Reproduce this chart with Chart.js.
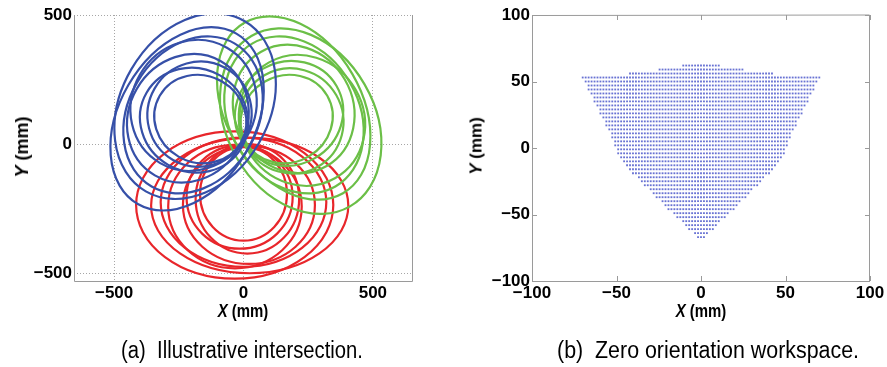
<!DOCTYPE html>
<html>
<head>
<meta charset="utf-8">
<script src="https://cdn.jsdelivr.net/npm/chart.js@4/dist/chart.umd.min.js"></script>
<style>
  body { margin: 0; background: #fff; }
  #page { position: relative; width: 887px; height: 367px; overflow: hidden; font-family: "Liberation Sans", Arial, sans-serif; }
  canvas { position: absolute; top: 0; }
  .lbl { position: absolute; white-space: nowrap; line-height: 1; color: #000; }
  .ax { font-weight: bold; font-size: 18px; }
  .cap { font-size: 23px; }
</style>
</head>
<body>
<div id="page">
  <canvas id="chartA" width="440" height="367" style="left:0"></canvas>
  <canvas id="chartB" width="447" height="367" style="left:440px"></canvas>

  <div class="lbl ax" style="left:22px;top:147px;transform:translate(-50%,-50%) rotate(-90deg)"><i>Y</i> (mm)</div>
  <div class="lbl ax" style="left:243px;top:311px;transform:translate(-50%,-50%) scaleX(0.83)"><i>X</i> (mm)</div>
  <div class="lbl ax" style="left:476px;top:146px;font-size:17px;transform:translate(-50%,-50%) rotate(-90deg)"><i>Y</i> (mm)</div>
  <div class="lbl ax" style="left:701px;top:311px;transform:translate(-50%,-50%) scaleX(0.83)"><i>X</i> (mm)</div>

  <div class="lbl cap" style="left:242px;top:350px;transform:translate(-50%,-50%) scaleX(0.88)">(a)&nbsp; Illustrative intersection.</div>
  <div class="lbl cap" style="left:708px;top:350px;transform:translate(-50%,-50%) scaleX(0.93)">(b)&nbsp; Zero orientation workspace.</div>
</div>

<script>
// (a) loops traced by the three legs: [centre x, centre y, semi-axis a, semi-axis b, tilt deg]
const redLoops = [
  [-34, -236, 381, 285, 0],
  [24, -238, 381, 262, 0],
  [-33, -242, 258, 239, 0],
  [21, -236, 255, 228, 0],
  [-15, -205, 205, 200, 0],
  [15, -212, 200, 212, 0],
  [0, -193, 168, 181, 0],
  [0, -225, 320, 250, 0]
];
const greenLoops = [
  [221, 89, 381, 285, 120],
  [194, 140, 381, 262, 120],
  [226, 92, 258, 239, 120],
  [194, 136, 255, 228, 120],
  [185, 90, 205, 200, 120],
  [176, 119, 200, 212, 120],
  [167, 97, 168, 181, 120],
  [195, 113, 320, 250, 120]
];
const blueLoops = [
  [-187, 147, 381, 285, -120],
  [-218, 98, 381, 262, -120],
  [-193, 150, 258, 239, -120],
  [-215, 100, 255, 228, -120],
  [-170, 116, 205, 200, -120],
  [-191, 93, 200, 212, -120],
  [-167, 97, 168, 181, -120],
  [-195, 113, 320, 250, -120]
];
const ticksA = [-500, 0, 500];

// (b) workspace grid: one row per y, with its x extent
const wsRowY = [62, 59, 56, 53, 50, 47, 44, 41, 38, 35, 32, 29, 26, 23, 20, 17, 14, 11, 8, 5, 2, -1,
  -4, -7, -10, -13, -16, -19, -22, -25, -28, -31, -34, -37, -40, -43, -46, -49, -52, -55, -58, -61, -64, -67];
const wsRowXMin = [-12, -26, -42, -70, -69, -68, -67, -66, -64.5, -63, -62, -60.5, -59.5, -58.5, -57.5, -56.5,
  -55.5, -54, -53, -52, -51, -50, -49, -48, -47, -45, -43, -40.5, -38, -36, -33.5, -31, -29, -26.5, -24, -22,
  -19.5, -17, -14.5, -12, -9.5, -7, -4.5, -2];
const wsRowXMax = [12, 26, 42, 70, 69, 68, 67, 66, 64.5, 63, 62, 60.5, 59.5, 58.5, 57.5, 56.5,
  55.5, 54, 53, 52, 51, 50, 49, 48, 47, 45, 43, 40.5, 38, 36, 33.5, 31, 29, 26.5, 24, 22,
  19.5, 17, 14.5, 12, 9.5, 7, 4.5, 2];
const wsStepX = 1.75;
const ticksB = [-100, -50, 0, 50, 100];

const tickFont = { family: '"Liberation Sans", Arial, sans-serif', size: 17, weight: 'bold' };
const fmt = v => (v < 0 ? '\u2212' + Math.abs(v) : '' + v);

// draws each loop as an ellipse through the chart scales
const loopPlugin = {
  id: 'loops',
  afterDatasetsDraw(chart) {
    const { ctx, chartArea: a } = chart;
    const xs = chart.scales.x, ys = chart.scales.y;
    ctx.save();
    ctx.beginPath();
    ctx.rect(a.left, a.top, a.right - a.left, a.bottom - a.top);
    ctx.clip();
    chart.data.datasets.forEach(ds => {
      ctx.strokeStyle = ds.loopColor;
      ctx.lineWidth = 2.2;
      ds.data.forEach(p => {
        const px = xs.getPixelForValue(p.x), py = ys.getPixelForValue(p.y);
        const kx = xs.getPixelForValue(p.x + 1) - px;
        const ky = ys.getPixelForValue(p.y + 1) - py;
        ctx.save();
        ctx.translate(px, py);
        ctx.scale(kx, ky);
        ctx.rotate(p.tilt * Math.PI / 180);
        ctx.beginPath();
        ctx.ellipse(0, 0, p.a, p.b, 0, 0, Math.PI * 2);
        ctx.restore();
        ctx.stroke();
      });
    });
    ctx.restore();
  }
};

// box round the plot, optional inward ticks
const framePlugin = {
  id: 'frame',
  afterDraw(chart, args, opts) {
    const { ctx, chartArea: a } = chart;
    ctx.save();
    ctx.strokeStyle = opts.color;
    ctx.lineWidth = 1;
    ctx.beginPath();
    ctx.moveTo(a.left + 0.5, a.top);
    ctx.lineTo(a.left + 0.5, a.bottom + 0.5);
    ctx.lineTo(a.right - 0.5, a.bottom + 0.5);
    ctx.lineTo(a.right - 0.5, a.top);
    if (opts.top) ctx.lineTo(a.left + 0.5, a.top + 0.5);
    ctx.stroke();
    if (opts.tickLen) {
      const t = opts.tickLen;
      ctx.beginPath();
      chart.scales.x.ticks.forEach(tk => {
        const x = Math.round(chart.scales.x.getPixelForValue(tk.value)) + 0.5;
        ctx.moveTo(x, a.bottom); ctx.lineTo(x, a.bottom - t);
        ctx.moveTo(x, a.top); ctx.lineTo(x, a.top + t);
      });
      chart.scales.y.ticks.forEach(tk => {
        const y = Math.round(chart.scales.y.getPixelForValue(tk.value)) + 0.5;
        ctx.moveTo(a.left, y); ctx.lineTo(a.left + t, y);
        ctx.moveTo(a.right, y); ctx.lineTo(a.right - t, y);
      });
      ctx.stroke();
    }
    ctx.restore();
  }
};

function loopSet(loops, color) {
  return {
    data: loops.map(([x, y, a, b, tilt]) => ({ x, y, a, b, tilt })),
    loopColor: color,
    pointRadius: 0,
    showLine: false
  };
}

function axis(min, max, ticks, size, gridOn) {
  return {
    type: 'linear',
    min, max,
    afterBuildTicks: s => { s.ticks = ticks.map(v => ({ value: v })); },
    afterFit: s => { if (s.isHorizontal()) s.height = size; else s.width = size; },
    grid: { display: gridOn, color: '#a6a6a6', drawTicks: false },
    border: { display: false, dash: [1, 2] },
    ticks: { font: tickFont, color: '#000', padding: 2, callback: fmt, maxRotation: 0, autoSkip: false }
  };
}

new Chart(document.getElementById('chartA'), {
  type: 'scatter',
  data: {
    datasets: [
      loopSet(redLoops, '#e8262b'),
      loopSet(greenLoops, '#6bbf47'),
      loopSet(blueLoops, '#3650a8')
    ]
  },
  options: {
    responsive: false,
    animation: false,
    devicePixelRatio: 1,
    layout: { padding: { top: 15, right: 27, bottom: 47, left: 0 } },
    plugins: {
      legend: { display: false },
      tooltip: { enabled: false },
      frame: { color: '#9a9a9a', top: false, tickLen: 0 }
    },
    scales: {
      x: axis(-655, 655, ticksA, 39, true),
      y: axis(-530, 500, ticksA, 74, true)
    }
  },
  plugins: [loopPlugin, framePlugin]
});

// expand each workspace row onto the x grid
const wsPoints = [];
wsRowY.forEach((y, i) => {
  const k0 = Math.ceil(wsRowXMin[i] / wsStepX - 1e-9);
  const k1 = Math.floor(wsRowXMax[i] / wsStepX + 1e-9);
  for (let k = k0; k <= k1; k++) wsPoints.push({ x: k * wsStepX, y });
});

new Chart(document.getElementById('chartB'), {
  type: 'scatter',
  data: {
    datasets: [{
      data: wsPoints,
      pointStyle: 'rect',
      pointRadius: 1.3,
      borderWidth: 0,
      backgroundColor: 'rgba(62, 74, 198, 0.78)'
    }]
  },
  options: {
    responsive: false,
    animation: false,
    devicePixelRatio: 1,
    layout: { padding: { top: 15, right: 17, bottom: 47, left: 0 } },
    plugins: {
      legend: { display: false },
      tooltip: { enabled: false },
      frame: { color: '#9a9a9a', top: true, tickLen: 5 }
    },
    scales: {
      x: axis(-100, 100, ticksB, 39, false),
      y: axis(-100, 100, ticksB, 92, false)
    }
  },
  plugins: [framePlugin]
});
</script>
</body>
</html>
